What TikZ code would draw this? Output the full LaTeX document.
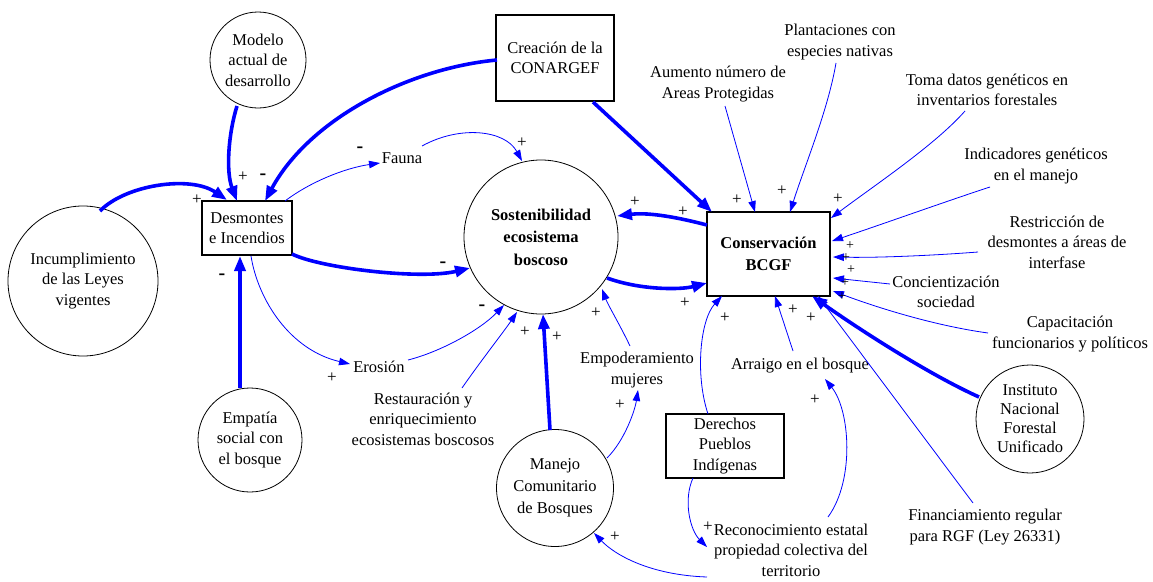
\documentclass[tikz,border=0pt]{standalone}
\usepackage{fontspec}
\setmainfont{Liberation Serif}
\usetikzlibrary{arrows.meta,calc}
\begin{document}
\begin{tikzpicture}[x=1pt,y=-1pt,
  every node/.style={font=\fontsize{16.5}{20.5}\selectfont, align=center, inner sep=0pt, outer sep=0pt},
  circ/.style={draw=black, line width=0.8pt, circle, minimum size=#1},
  boxn/.style n args={2}{draw=black, line width=1.1pt, rectangle, minimum width=#1, minimum height=#2},
  bld/.style={font=\fontsize{16.5}{22.5}\selectfont\bfseries},
  thk/.style={draw=blue, line width=3.6pt, -{Triangle[length=15pt,width=11pt]}},
  thn/.style={draw=blue, line width=0.8pt, -{Triangle[length=11pt,width=7.5pt]}},
  sgn/.style={font=\fontsize{17}{17}\selectfont},
  sgs/.style={font=\fontsize{14}{14}\selectfont},
  neg/.style={font=\fontsize{20}{20}\selectfont\bfseries}
]
\fill[white] (0,0) rectangle (1153,581);
\useasboundingbox (0,0) rectangle (1153,581);

% nodes
\node[circ=96pt] (mod) at (258,60) {Modelo\\actual de\\desarrollo};
\node[circ=150pt] (inc) at (83,281) {Incumplimiento\\de las Leyes\\vigentes};
\node[boxn={90pt}{54pt}] (des) at (247,228) {Desmontes\\e Incendios};
\node[circ=104pt] (emp) at (250,440) {Empatía\\social con\\el bosque};
\node (fau) at (402,158) {Fauna};
\node[circ=154pt, bld] (sos) at (541,237) {Sostenibilidad\\ecosistema\\boscoso};
\node[boxn={118pt}{86pt}] (con) at (555,58) {Creación de la\\CONARGEF};
\node[boxn={123pt}{84pt}, bld] (cons) at (768.5,254) {Conservación\\BCGF};
\node (aum) at (718,84) {Aumento número de\\Areas Protegidas};
\node (pla) at (840,42) {Plantaciones con\\especies nativas};
\node (tom) at (987,90) {Toma datos genéticos en\\inventarios forestales};
\node (ind) at (1036,166) {Indicadores genéticos\\en el manejo};
\node (res) at (1057,242) {Restricción de\\desmontes a áreas de\\interfase};
\node (conc) at (946,292) {Concientización\\sociedad};
\node (cap) at (1070,334) {Capacitación\\funcionarios y políticos};
\node[circ=108pt, font=\fontsize{16.5}{19}\selectfont] (inst) at (1030,419) {Instituto\\Nacional\\Forestal\\Unificado};
\node (fin) at (985,527) {Financiamiento regular\\para RGF (Ley 26331)};
\node (arr) at (800,366) {Arraigo en el bosque};
\node (empo) at (637,370) {Empoderamiento\\mujeres};
\node[boxn={118pt}{64pt}] (der) at (725,446) {Derechos\\Pueblos\\Indígenas};
\node[circ=117pt, font=\fontsize{16.5}{22}\selectfont] (man) at (555,488) {Manejo\\Comunitario\\de Bosques};
\node (rec) at (791,550) {Reconocimiento estatal\\propiedad colectiva del\\territorio};
\node (rest) at (423,419) {Restauración y\\enriquecimiento\\ecosistemas boscosos};
\node (ero) at (379,367) {Erosión};

% thick connectors
\draw[thk] ($(mod)+(-21,46)$) .. controls (228,135) and (226,172) .. ($(des)+(-10,-27)$);
\draw[thk] ($(con)+(-58,2)$) .. controls (410,68) and (310,118) .. ($(des)+(18,-27)$);
\draw[thk] ($(inc)+(17,-70)$) .. controls (125,185) and (190,175) .. ($(des)+(-20,-28)$);
\draw[thk] ($(emp)+(-10,-52)$) -- ($(des)+(-7,28)$);
\draw[thk] ($(des)+(45,26)$) .. controls (320,268) and (420,280) .. ($(sos)+(-71,31)$);
\draw[thk] ($(cons)+(-61.5,-29)$) .. controls (680,218) and (650,212) .. ($(sos)+(76,-21)$);
\draw[thk] ($(sos)+(66,41)$) .. controls (640,290) and (680,290) .. ($(cons)+(-61.5,29)$);
\draw[thk] ($(con)+(38,44)$) -- ($(cons)+(-56.5,-42)$);
\draw[thk] ($(man)+(-5,-58)$) -- ($(sos)+(2,77)$);
\draw[thk] ($(inst)+(-51,-22)$) .. controls (930,375) and (860,330) .. ($(cons)+(43.5,42)$);

% thin connectors
\draw[thn] ($(des)+(38,-27)$) .. controls (310,182) and (345,168) .. ($(fau)+(-22,5)$);
\draw[thn] ($(fau)+(20,-12)$) .. controls (460,125) and (505,130) .. ($(sos)+(-19,-76)$);
\draw[thn] ($(des)+(4,28)$) .. controls (258,300) and (290,350) .. ($(ero)+(-29,-3)$);
\draw[thn] ($(ero)+(29,-7)$) .. controls (440,352) and (480,330) .. ($(sos)+(-37,68)$);
\draw[thn] ($(rest)+(39,-31)$) .. controls (480,362) and (505,330) .. ($(sos)+(-24,75)$);
\draw[thn] ($(empo)+(-7,-24)$) .. controls (620,325) and (608,305) .. ($(sos)+(61,52)$);
\draw[thn] ($(man)+(52,-30)$) .. controls (625,440) and (635,410) .. ($(empo)+(1,20)$);
\draw[thn] ($(der)+(-17,-32)$) .. controls (695,375) and (700,320) .. ($(cons)+(-46.5,42)$);
\draw[thn] ($(der)+(-32,32)$) .. controls (683,500) and (690,530) .. ($(rec)+(-84,-3)$);
\draw[thn] ($(rec)+(-84,27)$) .. controls (650,575) and (615,555) .. ($(man)+(39,45)$);
\draw[thn] ($(rec)+(37,-33)$) .. controls (855,480) and (850,410) .. ($(arr)+(25,13)$);
\draw[thn] ($(arr)+(-7,-15)$) -- ($(cons)+(6.5,42)$);
\draw[thn] ($(fin)+(-12,-24)$) -- ($(cons)+(49.5,42)$);
\draw[thn] ($(cap)+(-82,-1)$) .. controls (930,325) and (870,305) .. ($(cons)+(64.5,37)$);
\draw[thn] ($(conc)+(-56,-8)$) -- ($(cons)+(64.5,24)$);
\draw[thn] ($(res)+(-79,10)$) .. controls (940,255) and (880,258) .. ($(cons)+(64.5,3)$);
\draw[thn] ($(ind)+(-46,21)$) .. controls (950,200) and (880,225) .. ($(cons)+(63.5,-13)$);
\draw[thn] ($(tom)+(-22,21)$) .. controls (935,145) and (875,185) .. ($(cons)+(62.5,-36)$);
\draw[thn] ($(pla)+(-4,21)$) .. controls (828,110) and (805,165) .. ($(cons)+(21.5,-42)$);
\draw[thn] ($(aum)+(7,22)$) -- ($(cons)+(-13.5,-42)$);

% polarity signs
\node[sgn] (s1) at (243,177) {+};
\node[neg] (s2) at (263,177) {-};
\node[sgn] (s3) at (197,200) {+};
\node[neg] (s4) at (222,277) {-};
\node[neg] (s5) at (443,265) {-};
\node[neg] (s6) at (360,150) {-};
\node[sgn] (s7) at (522,143) {+};
\node[sgn] (s8) at (332,378) {+};
\node[neg] (s9) at (482,308) {-};
\node[sgn] (s10) at (525,332) {+};
\node[sgn] (s11) at (557,337) {+};
\node[sgn] (s12) at (596,313) {+};
\node[sgn] (s13) at (620,405) {+};
\node[sgn] (s14) at (635,202) {+};
\node[sgn] (s15) at (683,212) {+};
\node[sgn] (s16) at (685,303) {+};
\node[sgn] (s17) at (725,318) {+};
\node[sgn] (s18) at (708,527) {+};
\node[sgn] (s19) at (615,537) {+};
\node[sgn] (s20) at (815,400) {+};
\node[sgn] (s21) at (793,310) {+};
\node[sgn] (s22) at (811,318) {+};
\node[sgn] (s23) at (737,200) {+};
\node[sgn] (s24) at (782,191) {+};
\node[sgn] (s25) at (838,199) {+};
\node[sgs] (s26) at (850,246) {+};
\node[sgs] (s27) at (846,258) {+};
\node[sgs] (s28) at (851,270) {+};
\node[sgs] (s29) at (845,283) {+};
\node[sgs] (s30) at (842,297) {+};
\end{tikzpicture}
\end{document}
